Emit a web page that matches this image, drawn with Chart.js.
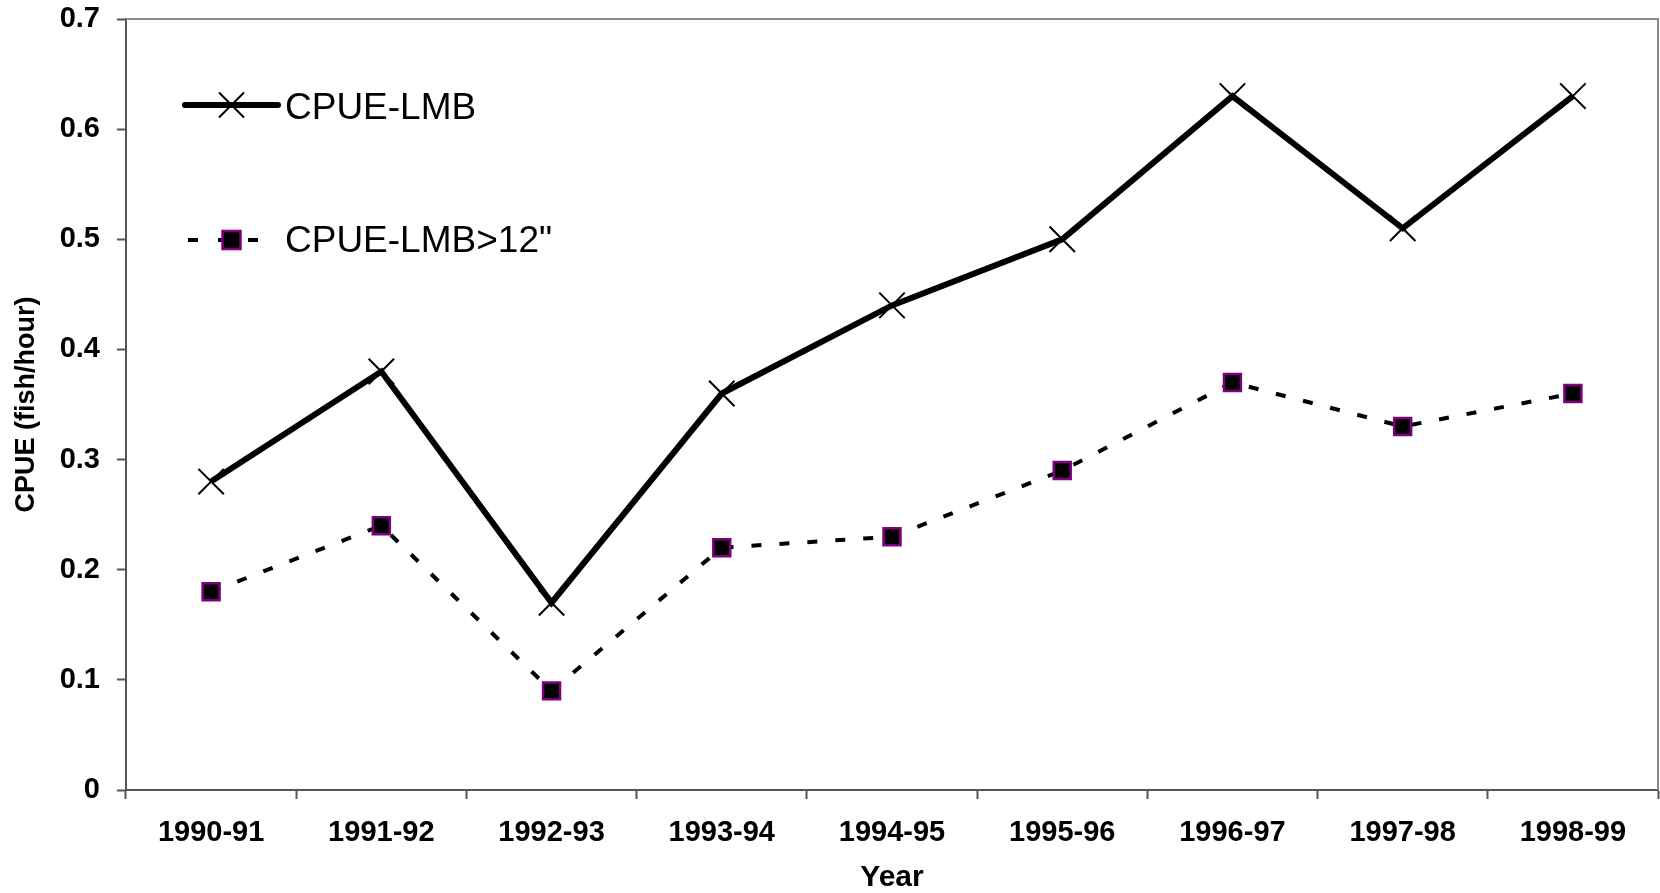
<!DOCTYPE html>
<html lang="en">
<head>
    <meta charset="UTF-8">
    <title>CPUE by Year</title>
    <script src="https://cdn.jsdelivr.net/npm/chart.js"></script>
    <style>
        html, body { margin: 0; padding: 0; background: #fff; overflow: hidden; }
        #wrap { width: 1660px; height: 893px; }
        canvas { display: block; }
    </style>
</head>
<body>
    <div id="wrap"><canvas id="cpueChart" width="1660" height="893"></canvas></div>

    <script>
        // data
        const years = ['1990-91', '1991-92', '1992-93', '1993-94', '1994-95', '1995-96', '1996-97', '1997-98', '1998-99'];
        const cpueLmb = [0.28, 0.38, 0.17, 0.36, 0.44, 0.50, 0.63, 0.51, 0.63];
        const cpueLmb12 = [0.18, 0.24, 0.09, 0.22, 0.23, 0.29, 0.37, 0.33, 0.36];
        const yTicks = ['0', '0.1', '0.2', '0.3', '0.4', '0.5', '0.6', '0.7'];

        const FONT = '"Liberation Sans", Arial, sans-serif';
        const PURPLE = '#800080';

        // legend drawn inside the plot, Excel style (line + marker + text)
        const insideLegend = {
            id: 'insideLegend',
            afterDraw(chart) {
                const c = chart.ctx;
                const a = chart.chartArea;
                const x0 = a.left + 59, x1 = a.left + 152, xm = (x0 + x1) / 2;
                const rows = [a.top + 86, a.top + 221];
                c.save();

                // box lines on top / right
                c.strokeStyle = '#8a8a8a';
                c.lineWidth = 2;
                c.beginPath();
                c.moveTo(a.left, a.top);
                c.lineTo(a.right, a.top);
                c.lineTo(a.right, a.bottom);
                c.stroke();

                // item 1: thick solid line with x marker
                let y = rows[0];
                c.strokeStyle = '#000';
                c.lineWidth = 6;
                c.lineCap = 'round';
                c.beginPath();
                c.moveTo(x0, y);
                c.lineTo(x1, y);
                c.stroke();
                c.lineCap = 'butt';
                c.lineWidth = 2;
                c.beginPath();
                c.moveTo(xm - 12.5, y - 12.5);
                c.lineTo(xm + 12.5, y + 12.5);
                c.moveTo(xm + 12.5, y - 12.5);
                c.lineTo(xm - 12.5, y + 12.5);
                c.stroke();

                // item 2: dashed line with square marker
                y = rows[1];
                c.lineWidth = 4;
                c.setLineDash([10, 20]);
                c.beginPath();
                c.moveTo(x0 + 3, y);
                c.lineTo(x1, y);
                c.stroke();
                c.setLineDash([]);
                c.fillStyle = '#000';
                c.strokeStyle = PURPLE;
                c.lineWidth = 2.5;
                c.fillRect(xm - 9, y - 9, 18, 18);
                c.strokeRect(xm - 9, y - 9, 18, 18);

                // texts
                c.fillStyle = '#000';
                c.font = '37px ' + FONT;
                c.textBaseline = 'middle';
                c.textAlign = 'left';
                c.fillText(chart.data.datasets[0].label, x1 + 7, rows[0] + 4);
                c.fillText(chart.data.datasets[1].label, x1 + 7, rows[1] + 2);
                c.restore();
            }
        };

        const ctx = document.getElementById('cpueChart').getContext('2d');
        new Chart(ctx, {
            type: 'line',
            data: {
                labels: years,
                datasets: [
                    {
                        label: 'CPUE-LMB',
                        data: cpueLmb,
                        borderColor: '#000',
                        borderWidth: 6,
                        pointStyle: 'crossRot',
                        pointRadius: 18,
                        pointBorderColor: '#000',
                        pointBorderWidth: 2,
                        tension: 0,
                        fill: false
                    },
                    {
                        label: 'CPUE-LMB>12"',
                        data: cpueLmb12,
                        borderColor: '#000',
                        borderWidth: 4,
                        borderDash: [10, 18],
                        pointStyle: 'rect',
                        pointRadius: 12,
                        pointBackgroundColor: '#000',
                        pointBorderColor: PURPLE,
                        pointBorderWidth: 2.5,
                        tension: 0,
                        fill: false
                    }
                ]
            },
            options: {
                responsive: false,
                animation: false,
                events: [],
                layout: { autoPadding: false, padding: { top: 19, right: 2, bottom: 0, left: 0 } },
                plugins: {
                    legend: { display: false },
                    tooltip: { enabled: false }
                },
                scales: {
                    x: {
                        offset: true,
                        grid: {
                            offset: true,
                            drawOnChartArea: false,
                            drawTicks: true,
                            tickLength: 9,
                            tickWidth: 2,
                            tickColor: '#555'
                        },
                        border: { color: '#555', width: 2 },
                        ticks: {
                            color: '#000',
                            padding: 17,
                            maxRotation: 0,
                            font: { family: FONT, size: 29, weight: 'bold' }
                        },
                        title: {
                            display: true,
                            text: 'Year',
                            color: '#000',
                            padding: { top: 0, bottom: -3 },
                            font: { family: FONT, size: 30, weight: 'bold' }
                        },
                        afterFit(scale) {
                            scale.height = 103;
                            scale.paddingLeft = 0;
                            scale.paddingRight = 0;
                        }
                    },
                    y: {
                        min: 0,
                        max: 0.7,
                        grid: {
                            drawOnChartArea: false,
                            drawTicks: true,
                            tickLength: 9,
                            tickWidth: 2,
                            tickColor: '#555'
                        },
                        border: { color: '#555', width: 2 },
                        ticks: {
                            stepSize: 0.1,
                            color: '#000',
                            padding: 17,
                            font: { family: FONT, size: 29, weight: 'bold' },
                            callback: (v, i) => yTicks[i]
                        },
                        title: {
                            display: true,
                            text: 'CPUE (fish/hour)',
                            color: '#000',
                            padding: { top: 10, bottom: 0 },
                            font: { family: FONT, size: 27, weight: 'bold' }
                        },
                        afterFit(scale) {
                            scale.width = 126;
                            scale.paddingTop = 0;
                            scale.paddingBottom = 0;
                        }
                    }
                }
            },
            plugins: [insideLegend]
        });
    </script>
</body>
</html>
